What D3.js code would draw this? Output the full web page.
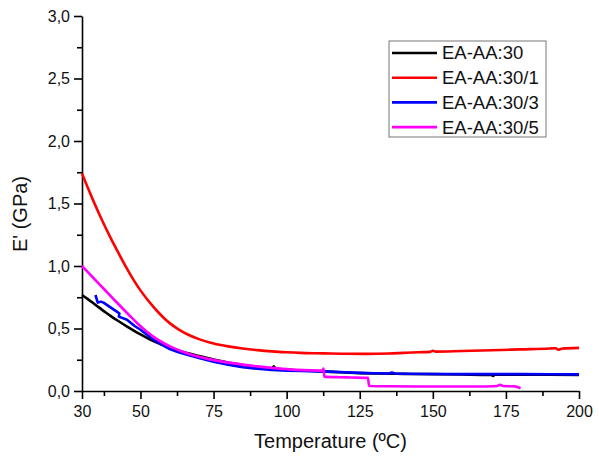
<!DOCTYPE html>
<html>
<head>
<meta charset="utf-8">
<script src="https://cdn.jsdelivr.net/npm/d3@7"></script>
<style>
  body { margin: 0; background: #fff; }
  svg { display: block; font-family: "Liberation Sans", Arial, sans-serif; }
  .axis path, .axis line { stroke: #000; stroke-width: 1.6px; }
  .axis text { font-size: 16px; fill: #111; }
</style>
</head>
<body>
<div id="chart"></div>
<script>
// Series data: [temperature ºC, E' GPa]
const seriesNames = ["EA-AA:30", "EA-AA:30/1", "EA-AA:30/3", "EA-AA:30/5"];
const seriesColors = ["#000000", "#ff0000", "#0000ff", "#ff00ff"];

const ea30 = [
  [30, 0.768], [32, 0.735], [34, 0.70], [36, 0.665], [38, 0.63], [40, 0.597],
  [42, 0.566], [44, 0.536], [46, 0.507], [48, 0.479], [50, 0.453], [53, 0.416],
  [56, 0.383], [59, 0.354], [62, 0.33], [65, 0.31], [70, 0.28], [75, 0.252],
  [80, 0.228], [85, 0.208], [90, 0.192], [95, 0.18], [95.6, 0.197], [96.2, 0.18],
  [100, 0.172], [105, 0.165], [110, 0.16], [115, 0.153], [120, 0.148], [125, 0.143],
  [130, 0.14], [140, 0.137], [150, 0.135], [160, 0.132], [170, 0.128], [170.6, 0.12],
  [171.2, 0.13], [180, 0.13], [190, 0.13], [200, 0.128]
];

const ea30_1 = [
  [30, 1.74], [32, 1.625], [34, 1.515], [36, 1.41], [38, 1.31], [40, 1.215],
  [42, 1.125], [44, 1.037], [46, 0.953], [48, 0.875], [50, 0.805], [52, 0.742],
  [54, 0.685], [56, 0.632], [58, 0.584], [60, 0.543], [63, 0.493], [66, 0.454],
  [70, 0.415], [75, 0.38], [80, 0.357], [85, 0.34], [90, 0.327], [95, 0.317],
  [100, 0.31], [104.7, 0.305], [110, 0.302], [115, 0.30], [120, 0.298], [127.5, 0.297],
  [135, 0.30], [140, 0.305], [145, 0.31], [149, 0.313], [150, 0.322], [151, 0.315],
  [160, 0.32], [170, 0.326], [180, 0.333], [190, 0.34], [192, 0.342], [193, 0.33],
  [194, 0.338], [200, 0.345]
];

const ea30_3 = [
  [34.6, 0.768], [35.4, 0.707], [36.5, 0.715], [37.5, 0.705], [40, 0.665],
  [41.9, 0.635], [42.8, 0.62], [42.6, 0.595], [45.4, 0.57], [48, 0.52], [50, 0.49],
  [52, 0.455], [54.5, 0.41], [57, 0.375], [60, 0.335], [63, 0.31], [66, 0.29],
  [70, 0.265], [75, 0.235], [80, 0.21], [85, 0.19], [90, 0.178], [95, 0.168],
  [100, 0.163], [105, 0.16], [110, 0.157], [115, 0.155], [120, 0.15], [125, 0.145],
  [130, 0.142], [135, 0.14], [136, 0.148], [137, 0.14], [140, 0.138], [150, 0.136],
  [160, 0.135], [170, 0.135], [180, 0.135], [190, 0.134], [200, 0.133]
];

const ea30_5 = [
  [30, 1.0], [34, 0.902], [38, 0.804], [42, 0.706], [46, 0.61], [49, 0.54],
  [52, 0.478], [55, 0.425], [58, 0.382], [61, 0.347], [64, 0.318], [67, 0.294],
  [70, 0.274], [73, 0.257], [78, 0.235], [84, 0.215], [90, 0.197], [95, 0.185],
  [101, 0.173], [106, 0.167], [112.3, 0.163], [112.6, 0.18], [112.9, 0.115],
  [118, 0.11], [122, 0.108], [127.8, 0.105], [128.2, 0.04], [135, 0.038],
  [150, 0.036], [165, 0.036], [172, 0.04], [173, 0.05], [174, 0.04], [178, 0.037],
  [179, 0.032], [180, 0.022]
];

const allSeries = [ea30, ea30_1, ea30_3, ea30_5];
// blue trace doubles back on itself near 42 ºC, so it stays piecewise linear
const seriesCurves = [d3.curveMonotoneX, d3.curveMonotoneX, d3.curveLinear, d3.curveMonotoneX];

const xTicks = [30, 50, 75, 100, 125, 150, 175, 200];
const xMinorTicks = [37.5, 62.5, 87.5, 112.5, 137.5, 162.5, 187.5];
const yTicks = [0, 0.5, 1.0, 1.5, 2.0, 2.5, 3.0];
const yMinorTicks = [0.25, 0.75, 1.25, 1.75, 2.25, 2.75];

const W = 599, H = 456;
const margin = { top: 16, right: 20, bottom: 65, left: 82 };
const plotW = 579 - margin.left;
const plotH = 391 - margin.top;

const svg = d3.select("#chart").append("svg")
    .attr("width", W)
    .attr("height", H);

const g = svg.append("g")
    .attr("transform", `translate(${margin.left},${margin.top})`);

const x = d3.scaleLinear().domain([30, 200]).range([0, plotW]);
const y = d3.scaleLinear().domain([0, 3]).range([plotH, 0]);

const commaFmt = d => d3.format(".1f")(d).replace(".", ",");

// minor ticks first, then the main axes on top
g.append("g")
    .attr("class", "axis")
    .attr("transform", `translate(0,${plotH})`)
    .call(d3.axisBottom(x).tickValues(xMinorTicks).tickSize(5).tickFormat(""))
    .select(".domain").remove();

g.append("g")
    .attr("class", "axis")
    .call(d3.axisLeft(y).tickValues(yMinorTicks).tickSize(5).tickFormat(""))
    .select(".domain").remove();

g.append("g")
    .attr("class", "axis")
    .attr("transform", `translate(0,${plotH})`)
    .call(d3.axisBottom(x).tickValues(xTicks).tickSize(8).tickSizeOuter(0).tickPadding(7));

g.append("g")
    .attr("class", "axis")
    .call(d3.axisLeft(y).tickValues(yTicks).tickSize(8).tickSizeOuter(0).tickPadding(4).tickFormat(commaFmt));

// curves
allSeries.forEach((s, i) => {
    const line = d3.line()
        .curve(seriesCurves[i])
        .x(d => x(d[0]))
        .y(d => y(d[1]));
    g.append("path")
        .datum(s)
        .attr("fill", "none")
        .attr("stroke", seriesColors[i])
        .attr("stroke-width", 2.6)
        .attr("stroke-linejoin", "round")
        .attr("d", line);
});

// axis titles
svg.append("text")
    .attr("x", margin.left + plotW / 2)
    .attr("y", 448)
    .attr("text-anchor", "middle")
    .style("font-size", "20px")
    .style("fill", "#111")
    .text("Temperature (ºC)");

svg.append("text")
    .attr("transform", "translate(27,214) rotate(-90)")
    .attr("text-anchor", "middle")
    .style("font-size", "20px")
    .style("fill", "#111")
    .text("E' (GPa)");

// legend
const legend = svg.append("g").attr("transform", "translate(389,41)");
legend.append("rect")
    .attr("width", 157)
    .attr("height", 96)
    .attr("fill", "#fff")
    .attr("stroke", "#777")
    .attr("stroke-width", 1);

seriesNames.forEach((name, i) => {
    const row = legend.append("g").attr("transform", `translate(0,${12 + i * 24.7})`);
    row.append("line")
        .attr("x1", 3).attr("x2", 48)
        .attr("stroke", seriesColors[i])
        .attr("stroke-width", 2.6);
    row.append("text")
        .attr("x", 53)
        .attr("dy", "0.35em")
        .style("font-size", "18.5px")
        .style("fill", "#111")
        .text(name);
});
</script>
</body>
</html>
